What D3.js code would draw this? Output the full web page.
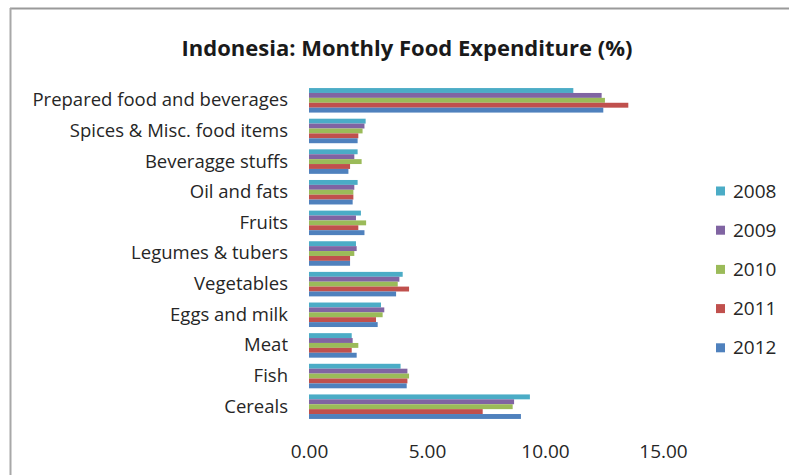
<!DOCTYPE html>
<html>
<head>
<meta charset="utf-8">
<script src="https://cdn.jsdelivr.net/npm/d3@7"></script>
<style>
  html, body { margin: 0; padding: 0; background: #fff; }
  svg { display: block; }
  text { font-family: "Open Sans", "DejaVu Sans", sans-serif; }
</style>
</head>
<body>
<svg id="chart" width="789" height="475"></svg>
<script>
// ---- data ----
const categories = [
  "Prepared food and beverages",
  "Spices & Misc. food items",
  "Beveragge stuffs",
  "Oil and fats",
  "Fruits",
  "Legumes & tubers",
  "Vegetables",
  "Eggs and milk",
  "Meat",
  "Fish",
  "Cereals"
];
const years = ["2008", "2009", "2010", "2011", "2012"];
const values2008 = [11.20, 2.40, 2.06, 2.06, 2.20, 1.99, 3.97, 3.05, 1.81, 3.88, 9.36];
const values2009 = [12.40, 2.35, 1.92, 1.92, 1.99, 2.02, 3.83, 3.19, 1.85, 4.17, 8.69];
const values2010 = [12.54, 2.27, 2.23, 1.88, 2.42, 1.92, 3.76, 3.12, 2.09, 4.24, 8.63];
const values2011 = [13.53, 2.09, 1.74, 1.88, 2.09, 1.74, 4.24, 2.84, 1.81, 4.17, 7.36];
const values2012 = [12.47, 2.06, 1.67, 1.85, 2.35, 1.74, 3.69, 2.91, 2.02, 4.14, 8.98];
const seriesValues = [values2008, values2009, values2010, values2011, values2012];
const xTickValues = [0, 5, 10, 15];
const titleText = "Indonesia: Monthly Food Expenditure (%)";

// ---- styles ----
const colors = ["#4bacc6", "#8064a2", "#9bbb59", "#c0504d", "#4f81bd"];

const svg = d3.select("#chart");

// frame (top and left edges visible)
svg.append("line").attr("x1", 10).attr("x2", 789).attr("y1", 8.5).attr("y2", 8.5)
  .attr("stroke", "#9a9a9a").attr("stroke-width", 2);
svg.append("line").attr("x1", 10.5).attr("x2", 10.5).attr("y1", 8).attr("y2", 475)
  .attr("stroke", "#a8a8a8").attr("stroke-width", 2);

// scales
const x = d3.scaleLinear().domain([0, 15]).range([309, 663]);
const y = d3.scaleBand().domain(categories).range([85, 422]).paddingInner(0.2).paddingOuter(0.1);
const yInner = d3.scaleBand().domain(years).range([0, y.bandwidth()]);

// title
svg.append("text")
  .attr("x", 407).attr("y", 56)
  .attr("text-anchor", "middle")
  .attr("font-weight", "bold")
  .attr("font-size", 22)
  .attr("fill", "#1a1a1a")
  .text(titleText);

// bars
const groups = svg.append("g").selectAll("g")
  .data(categories)
  .join("g")
  .attr("transform", d => `translate(0,${y(d)})`);

groups.selectAll("rect")
  .data((c, i) => years.map((yr, k) => ({ yr, k, v: seriesValues[k][i] })))
  .join("rect")
  .attr("x", x(0))
  .attr("y", d => yInner(d.yr))
  .attr("height", yInner.bandwidth())
  .attr("width", d => x(d.v) - x(0))
  .attr("fill", d => colors[d.k]);

// y axis (labels only)
const yAxis = d3.axisLeft(y).tickSize(0).tickPadding(0);
const yg = svg.append("g").attr("transform", "translate(288,0)").call(yAxis);
yg.select(".domain").remove();
yg.selectAll("text").attr("font-size", 18.5).attr("fill", "#262626")
  .attr("font-family", "'Open Sans', sans-serif");

// x axis (labels only)
const xAxis = d3.axisBottom(x).tickValues(xTickValues).tickFormat(d3.format(".2f")).tickSize(0).tickPadding(0);
const xg = svg.append("g").attr("transform", "translate(0,444)").call(xAxis);
xg.select(".domain").remove();
xg.selectAll("text").attr("font-size", 19).attr("fill", "#262626")
  .attr("font-family", "'Open Sans', sans-serif");

// legend
const legend = svg.append("g").selectAll("g")
  .data(years)
  .join("g")
  .attr("transform", (d, i) => `translate(716,${191 + i * 39.2})`);
legend.append("rect").attr("x", 0).attr("y", -4.5).attr("width", 9).attr("height", 9)
  .attr("fill", (d, i) => colors[i]);
legend.append("text").attr("x", 17).attr("y", 0).attr("dy", "0.35em")
  .attr("font-size", 19).attr("fill", "#262626").text(d => d);
</script>
</body>
</html>
